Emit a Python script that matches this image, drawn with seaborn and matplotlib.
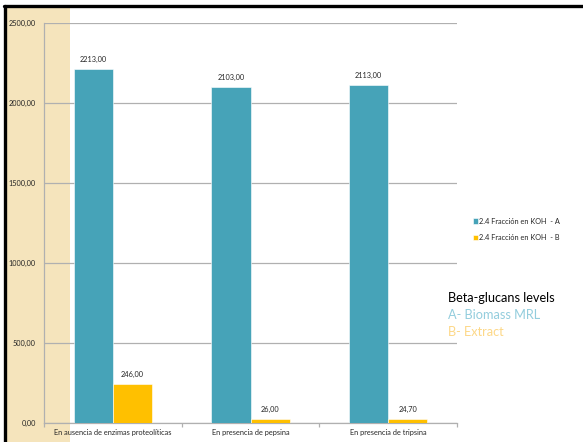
import matplotlib
matplotlib.use("Agg")
import matplotlib.pyplot as plt
from matplotlib.patches import Rectangle
from matplotlib.lines import Line2D
import seaborn as sns
import pandas as pd

categories = ["En ausencia de enzimas proteolíticas", "En presencia de pepsina", "En presencia de tripsina"]
series_names = ["2.4 Fracción en KOH  - A", "2.4 Fracción en KOH  - B"]
values_a = [2213.00, 2103.00, 2113.00]
values_b = [246.00, 26.00, 24.70]
y_ticks = [0, 500, 1000, 1500, 2000, 2500]

colors = ["#46A3B8", "#FFC000"]

df = pd.DataFrame({
    "cat": categories * 2,
    "serie": [series_names[0]] * 3 + [series_names[1]] * 3,
    "val": values_a + values_b,
})

sns.set_theme(style="white")
plt.rcParams["font.family"] = ["Lato", "DejaVu Sans"]

W, H = 583, 442
fig = plt.figure(figsize=(W / 100, H / 100), dpi=100)
fig.patch.set_facecolor("white")

# beige side strip and slide frame
fig.add_artist(Rectangle((7 / W, 0), 63 / W, 1 - 7 / H, transform=fig.transFigure,
                         facecolor="#F5E4BC", edgecolor="none", zorder=0))
fig.add_artist(Line2D([4 / W, 1], [1 - 6 / H, 1 - 6 / H], transform=fig.transFigure,
                      color="black", lw=2.4, zorder=5))
fig.add_artist(Line2D([5 / W, 5 / W], [0, 1 - 6 / H], transform=fig.transFigure,
                      color="black", lw=2.4, zorder=5))

ax = fig.add_axes([44 / W, 19 / H, (457 - 44) / W, (423 - 23) / H])
ax.set_facecolor("none")

sns.barplot(data=df, x="cat", y="val", hue="serie", palette=colors, saturation=1,
            width=0.567, ax=ax, edgecolor="white", linewidth=0.4, zorder=3)

ax.set_xlim(-0.5, 2.5)
ax.set_ylim(0, 2500)
ax.set_yticks(y_ticks)
ax.set_yticklabels([f"{v:.2f}".replace(".", ",") for v in y_ticks], fontsize=5.3)
ax.yaxis.grid(True, color="#B0B0B0", lw=0.9, zorder=0)
ax.set_axisbelow(True)
ax.set_xlabel("")
ax.set_ylabel("")
ax.tick_params(axis="x", length=0, labelsize=5.3, pad=4)
ax.tick_params(axis="y", length=3, color="#B0B0B0", width=0.9, pad=3)
ax.set_xticks([-0.5, 0.5, 1.5, 2.5], minor=True)
ax.tick_params(axis="x", which="minor", length=3, color="#B0B0B0", width=0.9, bottom=True)
for side in ["top", "right"]:
    ax.spines[side].set_visible(False)
for side in ["left", "bottom"]:
    ax.spines[side].set_color("#B0B0B0")
    ax.spines[side].set_linewidth(0.9)

for cont in ax.containers:
    ax.bar_label(cont, labels=[f"{v:.2f}".replace(".", ",") for v in cont.datavalues],
                 fontsize=5.3, padding=4)

leg = ax.legend_
handles = leg.legend_handles
leg.remove()
fig.legend(handles, series_names, loc="upper left",
           bbox_to_anchor=(466 / W, 1 - 211 / H), frameon=False, fontsize=5.3,
           handlelength=0.7, handleheight=0.7, handletextpad=0.2, labelspacing=1.3)

fig.text(448 / W, 1 - 298 / H, "Beta-glucans levels", fontsize=9.2, color="black", va="center")
fig.text(448 / W, 1 - 315 / H, "A- Biomass MRL", fontsize=9.2, color="#93CDDD", va="center")
fig.text(448 / W, 1 - 332 / H, "B- Extract", fontsize=9.2, color="#FDD888", va="center")

fig.savefig("out.png", dpi=100)
